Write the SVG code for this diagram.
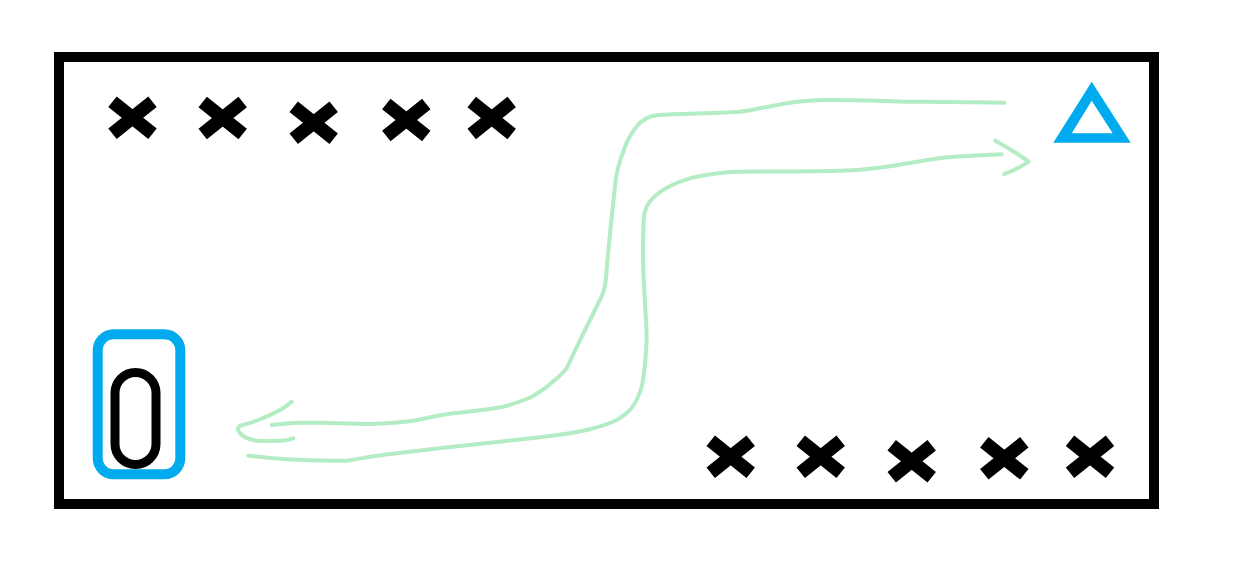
<svg xmlns="http://www.w3.org/2000/svg" xmlns:xlink="http://www.w3.org/1999/xlink" width="1253" height="564" viewBox="0 0 1253 564">
  <style>
    .xmark { fill: none; stroke: #000; stroke-width: 13.5; stroke-linecap: butt; }
    .route { fill: none; stroke: #b3ecc5; stroke-width: 4; stroke-linecap: round; stroke-linejoin: round; }
    .blue { fill: none; stroke: #00aaee; stroke-width: 10; }
  </style>
  <defs>
    <path id="x" class="xmark" d="M-20,-16 L20,16 M-20,16 L20,-16"/>
  </defs>
  <rect width="1253" height="564" fill="#fff"/>
  <g id="field">
    <rect x="59" y="57" width="1095" height="447" fill="none" stroke="#000" stroke-width="10"/>
  </g>
  <g id="x-top-1"><use xlink:href="#x" href="#x" x="132.5" y="117.7"/></g>
  <g id="x-top-2"><use xlink:href="#x" href="#x" x="222.7" y="118"/></g>
  <g id="x-top-3"><use xlink:href="#x" href="#x" x="313.7" y="122.7"/></g>
  <g id="x-top-4"><use xlink:href="#x" href="#x" x="406.3" y="120"/></g>
  <g id="x-top-5"><use xlink:href="#x" href="#x" x="491.7" y="118"/></g>
  <g id="x-bot-1"><use xlink:href="#x" href="#x" x="730.7" y="456.7"/></g>
  <g id="x-bot-2"><use xlink:href="#x" href="#x" x="820.7" y="456.7"/></g>
  <g id="x-bot-3"><use xlink:href="#x" href="#x" x="911.7" y="461.3"/></g>
  <g id="x-bot-4"><use xlink:href="#x" href="#x" x="1004.3" y="458.3"/></g>
  <g id="x-bot-5"><use xlink:href="#x" href="#x" x="1090" y="456.7"/></g>
  <g id="triangle">
    <path fill="#00aaee" fill-rule="evenodd" d="M1091.7,81.7 L1053.3,142.7 L1130.7,142.7 Z M1091.7,100.7 L1071.7,133.3 L1112.7,133.3 Z"/>
  </g>
  <g id="player-o">
    <rect class="blue" x="97.7" y="334.3" width="82.6" height="140" rx="16"/>
    <rect x="115" y="372.5" width="41" height="92" rx="20.5" fill="none" stroke="#000" stroke-width="9"/>
  </g>
  <g id="connectors">
    <path class="route" d="M1004.3,102.7 C970,102 940,101.5 911.4,101.7 C880,101 850,99.5 822,100 C800,100.5 785,103 768.6,106.7 C755,109 748,111 740,111.7 C712,113.5 680,113.5 657.9,115 C648,116 641,121 636.4,126.7 C630,135 626,143 624,150 C620,160 617,170 615.7,180 C612,215 608,250 606.7,270 C606,285 604,293 600,300 C595,309 592,317 586.7,326.7 C580,340 573,355 566.7,368.3 C562,374 558,378 553,381.7 C546,388 540,392 533.3,396 C523,401 513,404 503.3,406.7 C487,410 470,411 453.3,413.3 C440,415 427,418 413.3,420.7 C400,422.5 385,423.5 370,424 C352,424 336,423 320,422.7 C312,422.6 306,422.6 300,422.7 C290,423 280,424 271.7,425"/>
    <path class="route" d="M1001.7,154.3 C983,155 965,156 947,157.3 C925,160 905,164 882.9,167.3 C868,169.5 855,170.5 840,170.7 C806,171.5 773,171.5 740,171.7 C722,172 706,174.5 690,178.3 C674,183 662,189 654.3,196.7 C647,203 644,212 643.6,220 C643,240 643,260 643.3,270 C644,290 646,315 646.7,336.7 C646,355 645,372 641.7,386.7 C639,396 636,403 630,410 C626,414 622,417 616.7,420 C607,425 597,427.5 586.7,430 C570,434 552,436 533,438 C506,441 480,444 453,446.7 C425,450 397,453 370,456.7 C362,458 354,460 346.7,460.7 C326,461 306,460.5 286.7,459.3 C273,458.5 260,457 248.3,455.7"/>
    <path class="route" d="M995.4,140.7 C1007,147 1018,154 1028.6,161.7 C1021,167 1012,171 1004.3,174"/>
    <path class="route" d="M291.7,401.7 C288,405 284,408 280,410 C273,414 266,417 260,419.3 C253,422 246,424 240,426 C237.5,427.5 237.5,429.5 238.3,430.7 C239.5,433 241,434.5 243.3,436 C247,438.5 252,440 256.7,440.7 C264,441 272,441 280,440.7 C285,440.5 290,439.5 293.3,438.3"/>
  </g>
</svg>
